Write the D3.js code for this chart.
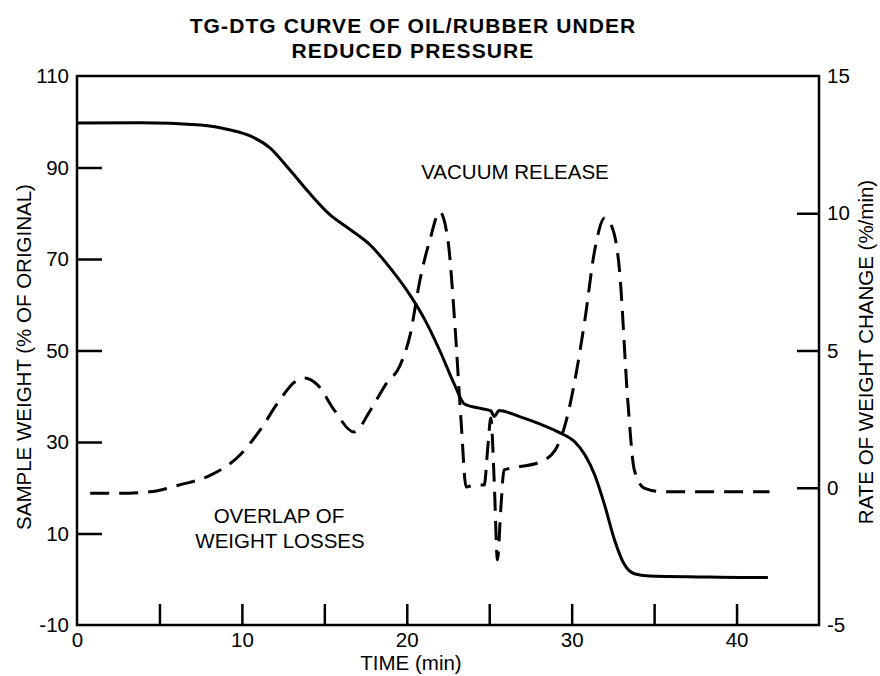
<!DOCTYPE html>
<html>
<head>
<meta charset="utf-8">
<script src="https://cdn.jsdelivr.net/npm/d3@7"></script>
<style>
  body { margin: 0; background: #fff; }
  text { font-family: "Liberation Sans", Arial, sans-serif; fill: #000; }
</style>
</head>
<body>
<svg id="chart" width="880" height="676"></svg>
<script>
// TG curve: sample weight (% of original), left axis
const tgTime   = [0, 3.8, 7.5, 9.3, 10.5, 11.7, 12.9, 14.1, 15.3, 16.5, 17.8, 19, 20.2, 21.1, 22, 22.9, 23.5, 24.4, 25.1, 25.3, 25.6, 26.8, 28.1, 29.3, 30.2, 30.8, 31.4, 32, 32.6, 33.2, 33.8, 34.7, 37.8, 40.2, 41.9];
const tgWeight = [99.7, 99.8, 99.3, 98.2, 96.9, 94.3, 89.5, 84.4, 79.8, 76.6, 73, 68, 62.1, 56.7, 50, 42.5, 38.3, 37.4, 36.8, 35.6, 36.9, 35.6, 33.9, 32, 30, 27.2, 22.8, 16.2, 8.6, 3.2, 1.2, 0.7, 0.5, 0.4, 0.4];

// DTG curve: rate of weight change (%/min), right axis
const dtgTime = [0.8, 2.6, 4.4, 6.2, 8.1, 9.9, 11.1, 12.3, 13.2, 13.8, 14.6, 15.6, 16.8, 17.8, 18.7, 19.6, 20.2, 20.8, 21.4, 22, 22.5, 22.9, 23.3, 23.6, 24.1, 24.7, 24.9, 25.1, 25.3, 25.5, 25.7, 25.9, 26.8, 28.1, 29, 29.6, 30.2, 30.8, 31.4, 32, 32.4, 32.9, 33.4, 33.8, 34.4, 35.6, 37.8, 40.2, 42];
const dtgRate = [-0.2, -0.2, -0.15, 0.1, 0.46, 1.2, 2.1, 3.2, 3.85, 4.0, 3.74, 2.83, 2.03, 2.83, 3.74, 4.47, 5.56, 7.57, 9.03, 10.05, 9.0, 6.1, 2.36, 0.03, 0.1, 0.1, 1.37, 2.54, 0.28, -2.63, -0.8, 0.65, 0.76, 0.94, 1.37, 2.29, 3.93, 6.11, 8.66, 9.83, 9.57, 7.93, 3.2, 0.65, -0.01, -0.15, -0.15, -0.15, -0.15];

const xTicks = [0, 5, 10, 15, 20, 25, 30, 35, 40, 45];
const xLabels = [0, 10, 20, 30, 40];
const leftTicks = [110, 90, 70, 50, 30, 10, -10];
const rightTicks = [15, 10, 5, 0, -5];

const svg = d3.select('#chart');
const plotL = 77, plotR = 819, plotT = 76, plotB = 625;
const fontSize = 20.5;

const x = d3.scaleLinear().domain([0, 45]).range([plotL, plotR]);
const yL = d3.scaleLinear().domain([-10, 110]).range([plotB, plotT]);
const yR = d3.scaleLinear().domain([-5, 15]).range([plotB, plotT]);

// frame
svg.append('rect')
    .attr('x', plotL).attr('y', plotT)
    .attr('width', plotR - plotL).attr('height', plotB - plotT)
    .attr('fill', 'none').attr('stroke', '#000').attr('stroke-width', 2.5);

// axes, ticks pointing inward, plain hyphen for negatives
const xAxis = d3.axisBottom(x).tickValues(xTicks).tickSizeInner(-21).tickSizeOuter(0)
    .tickFormat(d => xLabels.includes(d) ? String(d) : '').tickPadding(7);
const gx = svg.append('g').attr('transform', `translate(0,${plotB})`).call(xAxis);

const yAxisL = d3.axisLeft(yL).tickValues(leftTicks).tickSizeInner(-25).tickSizeOuter(0)
    .tickFormat(d => String(d)).tickPadding(8);
const gl = svg.append('g').attr('transform', `translate(${plotL},0)`).call(yAxisL);

const yAxisR = d3.axisRight(yR).tickValues(rightTicks).tickSizeInner(-22).tickSizeOuter(0)
    .tickFormat(d => String(d)).tickPadding(8);
const gr = svg.append('g').attr('transform', `translate(${plotR},0)`).call(yAxisR);

[gx, gl, gr].forEach(g => {
    g.select('.domain').remove();
    g.selectAll('line').attr('stroke', '#000').attr('stroke-width', 2.5);
    g.selectAll('text').attr('font-size', fontSize).attr('font-family', '"Liberation Sans", Arial, sans-serif').attr('fill', '#000');
});
gx.selectAll('.tick').filter(d => d === 0 || d === 45).select('line').remove();
gl.selectAll('.tick').filter(d => d === 110 || d === -10).select('line').remove();
gr.selectAll('.tick').filter(d => d === 15 || d === -5).select('line').remove();

// curves
const tgLine = d3.line().x(d => x(d[0])).y(d => yL(d[1])).curve(d3.curveMonotoneX);
const dtgLine = d3.line().x(d => x(d[0])).y(d => yR(d[1])).curve(d3.curveMonotoneX);

svg.append('path')
    .datum(dtgTime.map((t, i) => [t, dtgRate[i]]))
    .attr('d', dtgLine)
    .attr('fill', 'none').attr('stroke', '#000').attr('stroke-width', 3)
    .attr('stroke-dasharray', '19,10');

svg.append('path')
    .datum(tgTime.map((t, i) => [t, tgWeight[i]]))
    .attr('d', tgLine)
    .attr('fill', 'none').attr('stroke', '#000').attr('stroke-width', 3);

// titles
svg.append('text').attr('x', 413).attr('y', 33).attr('text-anchor', 'middle')
    .attr('font-weight', 'bold').attr('font-size', 21).attr('letter-spacing', 1.1)
    .text('TG-DTG CURVE OF OIL/RUBBER UNDER');
svg.append('text').attr('x', 413).attr('y', 58).attr('text-anchor', 'middle')
    .attr('font-weight', 'bold').attr('font-size', 21).attr('letter-spacing', 1.1)
    .text('REDUCED PRESSURE');

svg.append('text').attr('x', 411).attr('y', 670).attr('text-anchor', 'middle')
    .attr('font-size', fontSize).text('TIME (min)');

svg.append('text').attr('transform', 'translate(31,357) rotate(-90)').attr('text-anchor', 'middle')
    .attr('font-size', fontSize).text('SAMPLE WEIGHT (% OF ORIGINAL)');

svg.append('text').attr('transform', 'translate(873,352) rotate(-90)').attr('text-anchor', 'middle')
    .attr('font-size', fontSize).text('RATE OF WEIGHT CHANGE (%/min)');

// annotations
svg.append('text').attr('x', 515).attr('y', 179).attr('text-anchor', 'middle')
    .attr('font-size', fontSize).text('VACUUM RELEASE');
svg.append('text').attr('x', 279).attr('y', 523).attr('text-anchor', 'middle')
    .attr('font-size', fontSize).text('OVERLAP OF');
svg.append('text').attr('x', 280).attr('y', 548).attr('text-anchor', 'middle')
    .attr('font-size', fontSize).text('WEIGHT LOSSES');
</script>
</body>
</html>
